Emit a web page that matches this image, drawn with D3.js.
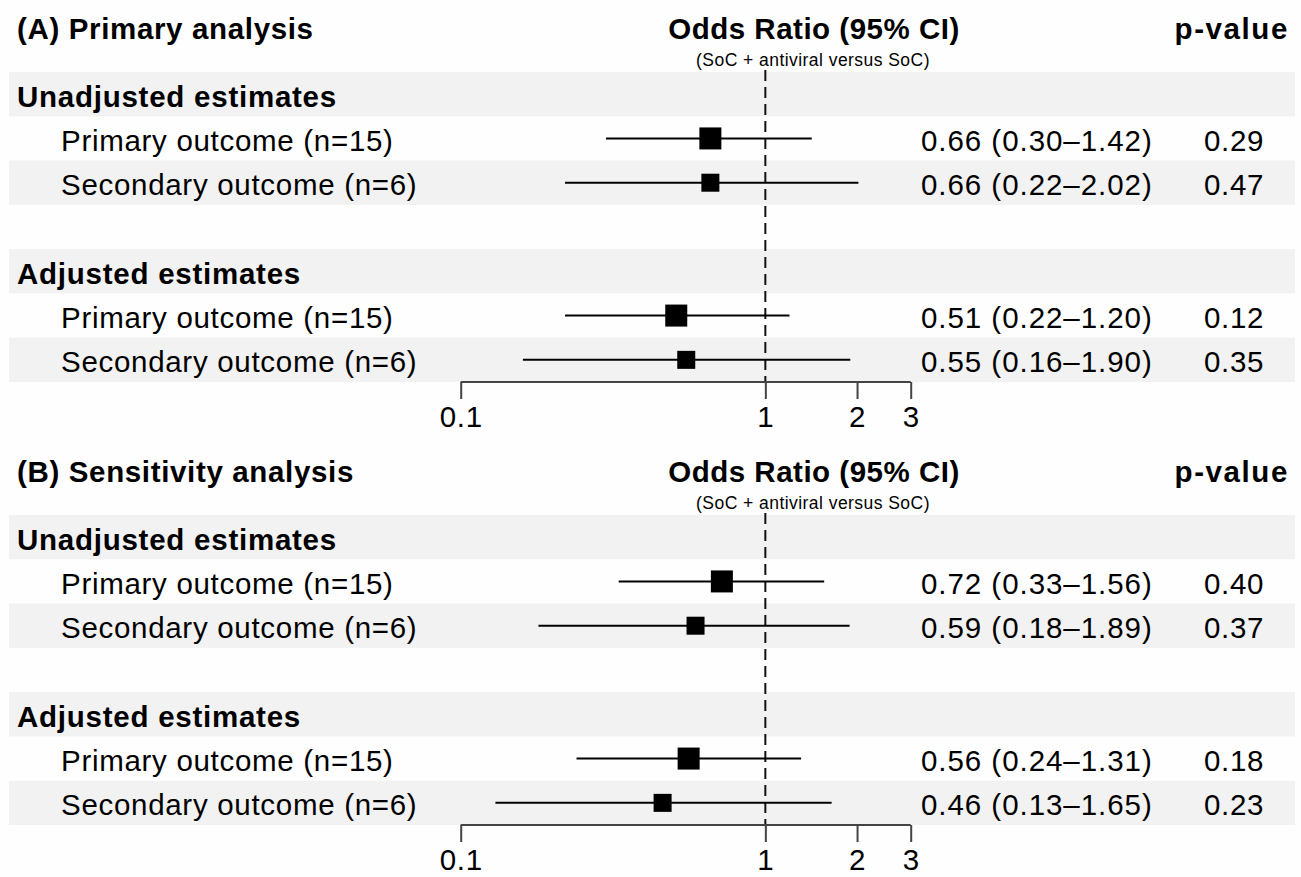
<!DOCTYPE html>
<html><head><meta charset="utf-8">
<script src="https://cdn.jsdelivr.net/npm/d3@7"></script>
<style>
html,body{margin:0;padding:0;background:#fefefe;}
svg{display:block;}
text{font-family:"Liberation Sans",Arial,sans-serif;fill:#000;}
</style></head>
<body>
<svg id="chart" width="1301" height="877"></svg>
<script>
// ---------------- data ----------------
const panelTitles = ["(A) Primary analysis", "(B) Sensitivity analysis"];
const groupLabels = ["Unadjusted estimates", "Adjusted estimates"];
const outcomeLabels = ["Primary outcome (n=15)", "Secondary outcome (n=6)"];
const outcomeN = [15, 6];
// order: unadjusted primary, unadjusted secondary, adjusted primary, adjusted secondary
const orA   = [0.66, 0.66, 0.51, 0.55];
const lowA  = [0.30, 0.22, 0.22, 0.16];
const highA = [1.42, 2.02, 1.20, 1.90];
const pA    = ["0.29", "0.47", "0.12", "0.35"];
const orB   = [0.72, 0.59, 0.56, 0.46];
const lowB  = [0.33, 0.18, 0.24, 0.13];
const highB = [1.56, 1.89, 1.31, 1.65];
const pB    = ["0.40", "0.37", "0.18", "0.23"];
const tickValues = [0.1, 1, 2, 3];
const tickLabels = ["0.1", "1", "2", "3"];
const headerOR = "Odds Ratio (95% CI)";
const headerSub = "(SoC + antiviral versus SoC)";
const headerP = "p-value";

// ---------------- layout ----------------
const svg = d3.select("#chart");
const panelOffset = 443;
const fs = 29.5;
const ls = "0.7px";
const x = d3.scaleLog().domain([0.1, 3]).range([460.7, 910.7]);
const rowY = d3.scaleBand().domain(d3.range(7)).range([72, 382]).paddingInner(0).paddingOuter(0);
const sq = d3.scaleLinear().domain([6, 15]).range([18, 22]);
const f2 = d3.format(".2f");

const panels = [
  {title: panelTitles[0], or: orA, lo: lowA, hi: highA, p: pA},
  {title: panelTitles[1], or: orB, lo: lowB, hi: highB, p: pB}
];

panels.forEach((P, pi) => {
  const g = svg.append("g").attr("transform", `translate(0,${pi * panelOffset})`);

  const rows = [];
  groupLabels.forEach((gl, gi) => {
    rows.push({type: "header", label: gl, idx: gi * 4});
    outcomeLabels.forEach((ol, oi) => {
      const k = gi * 2 + oi;
      rows.push({type: "est", label: ol, idx: gi * 4 + 1 + oi, n: outcomeN[oi],
                 or: P.or[k], lo: P.lo[k], hi: P.hi[k], p: P.p[k]});
    });
  });
  const shaded = [0, 2, 4, 6];

  g.selectAll("rect.band").data(shaded).join("rect")
    .attr("x", 9).attr("width", 1295 - 9)
    .attr("y", d => rowY(d)).attr("height", rowY.bandwidth())
    .attr("fill", "#f2f2f2");

  g.append("text").attr("x", 17).attr("y", 28).attr("dy", "0.36em")
    .attr("font-size", fs).attr("font-weight", "bold").attr("letter-spacing", "0.65px").text(P.title);
  g.append("text").attr("x", 814).attr("y", 28).attr("dy", "0.36em")
    .attr("text-anchor", "middle").attr("font-size", fs).attr("font-weight", "bold")
    .attr("letter-spacing", "0.5px").text(headerOR);
  g.append("text").attr("x", 813).attr("y", 60).attr("dy", "0.36em")
    .attr("text-anchor", "middle").attr("font-size", 17.5).attr("letter-spacing", "0.45px").text(headerSub);
  g.append("text").attr("x", 1289).attr("y", 28).attr("dy", "0.36em")
    .attr("text-anchor", "end").attr("font-size", fs).attr("font-weight", "bold")
    .attr("letter-spacing", "1.6px").text(headerP);

  g.append("line").attr("x1", x(1)).attr("x2", x(1))
    .attr("y1", 70).attr("y2", rowY.range()[1])
    .attr("stroke", "#111").attr("stroke-width", 2).attr("stroke-dasharray", "11,6");

  g.selectAll("text.rowlab").data(rows).join("text")
    .attr("x", d => d.type === "header" ? 17 : 61)
    .attr("y", d => rowY(d.idx) + rowY.bandwidth() / 2 + 2)
    .attr("dy", "0.36em")
    .attr("font-size", fs)
    .attr("letter-spacing", d => d.type === "header" ? "0.75px" : ls)
    .attr("font-weight", d => d.type === "header" ? "bold" : "normal")
    .text(d => d.label);

  const est = rows.filter(d => d.type === "est");
  const cy = d => rowY(d.idx) + rowY.bandwidth() / 2;

  g.selectAll("line.ci").data(est).join("line")
    .attr("x1", d => x(d.lo)).attr("x2", d => x(d.hi))
    .attr("y1", cy).attr("y2", cy)
    .attr("stroke", "#000").attr("stroke-width", 2);

  g.selectAll("rect.pt").data(est).join("rect")
    .attr("x", d => x(d.or) - sq(d.n) / 2)
    .attr("y", d => cy(d) - sq(d.n) / 2)
    .attr("width", d => sq(d.n)).attr("height", d => sq(d.n))
    .attr("fill", "#000");

  g.selectAll("text.ort").data(est).join("text")
    .attr("x", 921).attr("y", d => cy(d) + 2).attr("dy", "0.36em")
    .attr("text-anchor", "start").attr("font-size", fs).attr("letter-spacing", "0.95px")
    .text(d => `${f2(d.or)} (${f2(d.lo)}–${f2(d.hi)})`);

  g.selectAll("text.pt").data(est).join("text")
    .attr("x", 1234).attr("y", d => cy(d) + 2).attr("dy", "0.36em")
    .attr("text-anchor", "middle").attr("font-size", fs).attr("letter-spacing", ls)
    .text(d => d.p);

  const axis = d3.axisBottom(x).tickValues(tickValues)
    .tickFormat((d, i) => tickLabels[i]).tickSize(17).tickSizeOuter(0).tickPadding(7);
  const ax = g.append("g").attr("transform", `translate(0,${rowY.range()[1]})`).call(axis);
  ax.select(".domain").attr("stroke", "#444").attr("stroke-width", 2)
    .attr("d", `M${x(0.1)},0H${x(3)}`);
  ax.selectAll(".tick line").attr("stroke", "#444").attr("stroke-width", 2);
  ax.selectAll(".tick text").attr("font-size", fs).attr("fill", "#000")
    .attr("letter-spacing", ls)
    .attr("font-family", '"Liberation Sans",Arial,sans-serif');
});
</script>
</body></html>
